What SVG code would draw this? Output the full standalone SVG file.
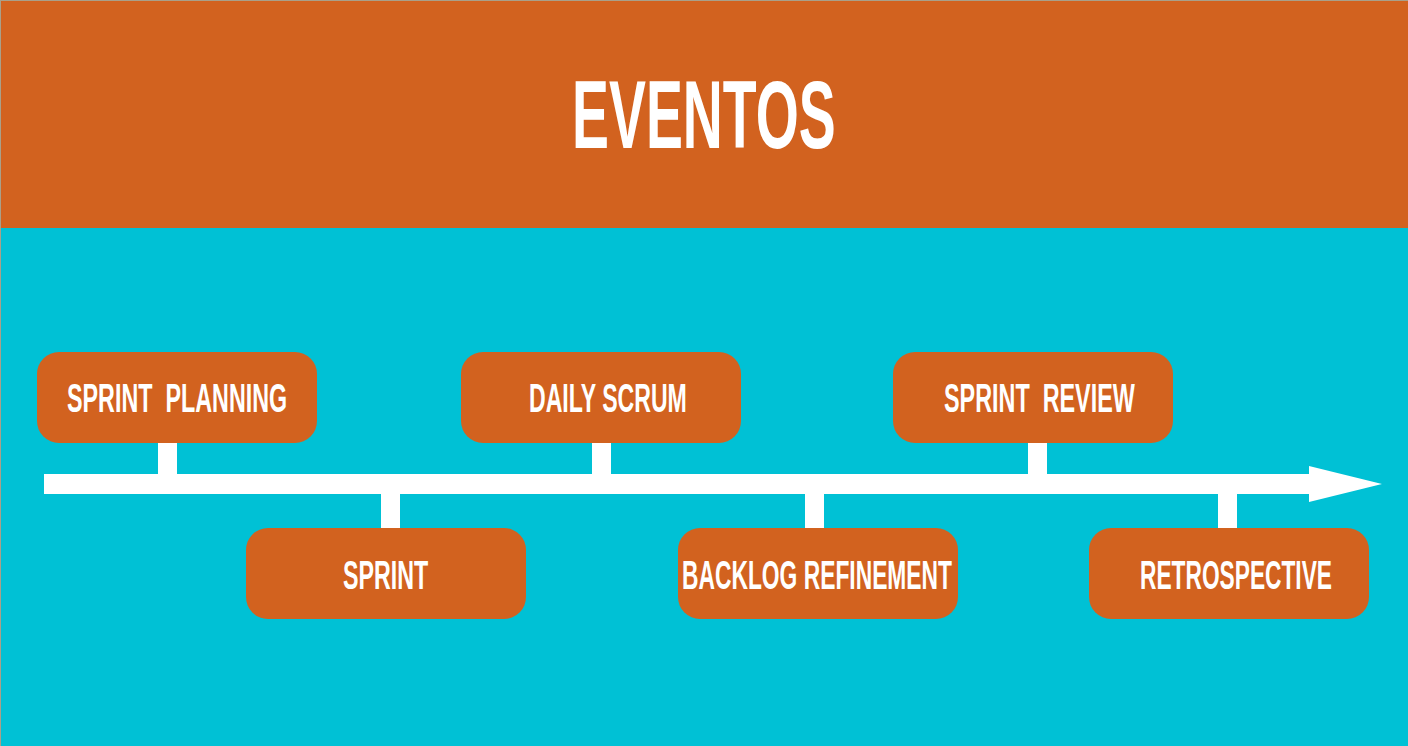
<svg xmlns="http://www.w3.org/2000/svg" width="1408" height="746" viewBox="0 0 1408 746">
  <style>
    .box { fill: #D2621F; }
    .lbl { fill: #FFFFFF; font-family: "Liberation Sans Narrow", "Liberation Sans", "DejaVu Sans Condensed", sans-serif; font-weight: bold; font-size: 41px; white-space: pre; }
    .title { fill: #FFFFFF; font-family: "Liberation Sans Narrow", "Liberation Sans", "DejaVu Sans Condensed", sans-serif; font-weight: bold; font-size: 96px; }
    .line { fill: #FFFFFF; }
  </style>

  <!-- background bands -->
  <rect x="0" y="0" width="1408" height="746" fill="#00C1D5"/>
  <rect x="0" y="0" width="1408" height="228" fill="#D2621F"/>
  <rect x="0" y="0" width="1408" height="1" fill="#A9A08A"/>
  <rect x="0" y="0" width="1" height="746" fill="#A9A08A"/>

  <!-- labels use a condensed look: horizontal squeeze via scale, exact width via textLength -->
  <g id="title">
    <text class="title" transform="translate(572,148) scale(0.56,1)" x="0" y="0" textLength="471" lengthAdjust="spacingAndGlyphs">EVENTOS</text>
  </g>

  <!-- timeline axis, arrowhead and stems -->
  <g id="connectors">
    <rect class="line" x="44" y="474" width="1268" height="20"/>
    <polygon class="line" points="1309,466 1382,484 1309,502"/>
    <rect class="line" x="158" y="443" width="19" height="32"/>
    <rect class="line" x="592" y="443" width="19" height="32"/>
    <rect class="line" x="1028" y="443" width="19" height="32"/>
    <rect class="line" x="381" y="493" width="19" height="36"/>
    <rect class="line" x="805" y="493" width="19" height="36"/>
    <rect class="line" x="1218" y="493" width="19" height="36"/>
  </g>

  <g id="sprint-planning">
    <rect class="box" x="37" y="352" width="280" height="91" rx="22"/>
    <text class="lbl" xml:space="preserve" transform="translate(67,412) scale(0.6,1)" x="0" y="0" textLength="367" lengthAdjust="spacingAndGlyphs">SPRINT  PLANNING</text>
  </g>

  <g id="daily-scrum">
    <rect class="box" x="461" y="352" width="280" height="91" rx="22"/>
    <text class="lbl" transform="translate(529,412) scale(0.6,1)" x="0" y="0" textLength="263" lengthAdjust="spacingAndGlyphs">DAILY SCRUM</text>
  </g>

  <g id="sprint-review">
    <rect class="box" x="893" y="352" width="280" height="91" rx="22"/>
    <text class="lbl" xml:space="preserve" transform="translate(944,412) scale(0.6,1)" x="0" y="0" textLength="318" lengthAdjust="spacingAndGlyphs">SPRINT  REVIEW</text>
  </g>

  <g id="sprint">
    <rect class="box" x="246" y="528" width="280" height="91" rx="22"/>
    <text class="lbl" transform="translate(343,589) scale(0.6,1)" x="0" y="0" textLength="142" lengthAdjust="spacingAndGlyphs">SPRINT</text>
  </g>

  <g id="backlog-refinement">
    <rect class="box" x="678" y="528" width="280" height="91" rx="22"/>
    <text class="lbl" transform="translate(682,589) scale(0.6,1)" x="0" y="0" textLength="450" lengthAdjust="spacingAndGlyphs">BACKLOG REFINEMENT</text>
  </g>

  <g id="retrospective">
    <rect class="box" x="1089" y="528" width="280" height="91" rx="22"/>
    <text class="lbl" transform="translate(1140,589) scale(0.6,1)" x="0" y="0" textLength="320" lengthAdjust="spacingAndGlyphs">RETROSPECTIVE</text>
  </g>
</svg>
